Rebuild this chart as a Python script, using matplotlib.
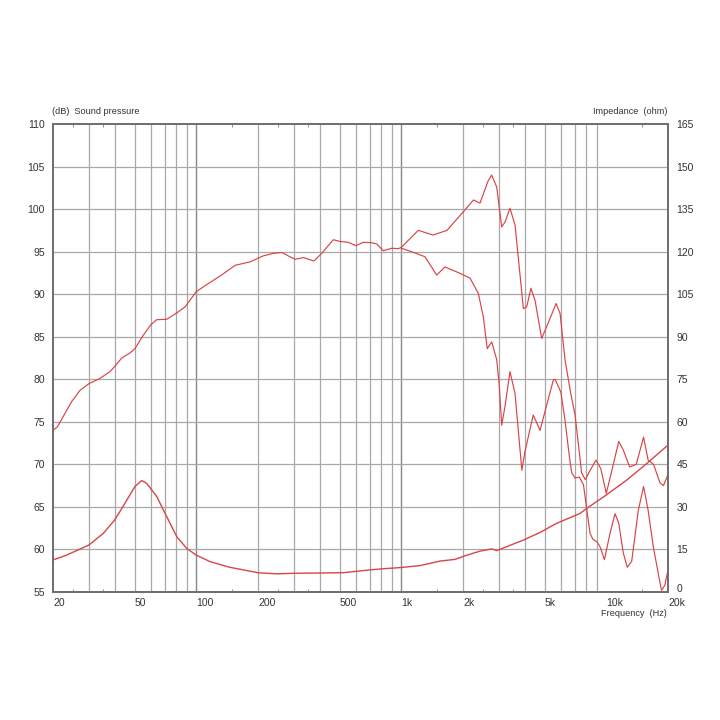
import numpy as np
import matplotlib
matplotlib.use('Agg')
import matplotlib.pyplot as plt
from matplotlib.transforms import ScaledTranslation

plt.rcParams['font.family'] = ['Liberation Sans', 'DejaVu Sans']

# on-axis sound pressure (dB)
f_on = [20, 21, 22.4, 24.7, 27.1, 30, 33.9, 37.9, 40, 43.3, 47.5, 50.2, 55.2, 60, 64.1,
        71.7, 80.3, 88.1, 100, 112, 130, 155, 183, 212, 238, 261, 303, 333, 375, 409,
        466, 502, 551, 600, 653, 717, 759, 817, 900, 967, 1000, 1210, 1430, 1670, 2010,
        2250, 2420, 2650, 2760, 2920, 3090, 3210, 3390, 3590, 3940, 4090, 4290, 4490,
        4840, 5120, 5690, 5950, 6290, 6700, 7040, 7300, 7580, 7900, 8300, 8900, 9400,
        10000, 10700, 11500, 12100, 13000, 14000, 15200, 16000, 17000, 18300, 19000, 20000]
spl_on = [74.0, 74.4, 75.6, 77.4, 78.7, 79.5, 80.1, 80.9, 81.5, 82.5, 83.1, 83.6, 85.2, 86.4, 87.0,
          87.05, 87.8, 88.5, 90.3, 91.1, 92.1, 93.4, 93.8, 94.5, 94.8, 94.9, 94.1, 94.3, 93.9, 94.8,
          96.4, 96.2, 96.1, 95.7, 96.1, 96.05, 95.9, 95.1, 95.4, 95.35, 95.5, 97.5, 96.95, 97.5, 99.7,
          101.07, 100.7, 103.3, 104.0, 102.6, 97.9, 98.5, 100.1, 98.1, 88.3, 88.5, 90.7, 89.3,
          84.8, 86.2, 88.9, 87.75, 82.3, 78.4, 75.8, 72.5, 69.0, 68.2, 69.2, 70.5, 69.5,
          66.6, 69.5, 72.7, 71.7, 69.7, 70.0, 73.2, 70.5, 70.0, 67.8, 67.5, 68.8]

# off-axis sound pressure (dB), splits from on-axis at 1 kHz
f_off = [1000, 1150, 1305, 1488, 1634, 1934, 2163, 2375, 2512, 2627, 2761, 2921, 3000, 3090,
         3205, 3390, 3587, 3874, 4010, 4403, 4751, 5124, 5514, 5625, 6000, 6290, 6600, 6780,
         7040, 7390, 7740, 8000, 8330, 8600, 9000, 9330, 9790, 10430, 11030, 11500, 12100,
         12660, 13300, 14330, 15200, 16000, 16960, 18280, 18600, 19300, 20000]
spl_off = [95.4, 94.9, 94.4, 92.25, 93.2, 92.45, 91.9, 90.1, 87.35, 83.6, 84.4, 82.3, 79.5, 74.6,
           76.8, 80.9, 78.35, 69.3, 71.5, 75.8, 74.0, 77.0, 79.9, 80.0, 78.5, 75.2, 71.0, 69.0,
           68.4, 68.5, 67.6, 65.0, 61.9, 61.2, 60.9, 60.3, 58.8, 61.9, 64.2, 63.1, 59.6,
           57.9, 58.6, 64.6, 67.4, 64.6, 60.3, 56.1, 55.2, 55.8, 57.6]

# impedance (ohm)
f_imp = [20, 23.3, 30, 35.2, 40, 44.9, 50.2, 54.2, 57.3, 64.1, 71.7, 80.3, 90, 100, 116.7, 146,
         200, 247, 300, 521, 704, 817, 985, 1234, 1545, 1828, 2090, 2421, 2761, 2921, 3270,
         3937, 4751, 5720, 7450, 8000, 10000, 12600, 15700, 20000]
z_imp = [11.3, 13.0, 16.6, 20.7, 25.4, 31.3, 37.2, 39.3, 38.3, 33.7, 26.6, 19.5, 15.3, 13.0, 10.7, 8.7,
         6.8, 6.4, 6.6, 6.8, 7.8, 8.2, 8.6, 9.3, 10.9, 11.5, 13.0, 14.4, 15.2, 14.6, 16.0,
         18.3, 21.0, 24.2, 27.7, 29.4, 34.2, 39.5, 45.2, 51.8]

x_ticks = [20, 50, 100, 200, 500, 1000, 2000, 5000, 10000, 20000]
x_labels = ['20', '50', '100', '200', '500', '1k', '2k', '5k', '10k', '20k']
small_ticks = [25, 35, 150, 250, 350, 1500, 2500, 3500, 15000]
db_ticks = list(range(55, 111, 5))
ohm_ticks = list(range(0, 166, 15))

red = '#d94446'
grid_c = '#a8a8a8'
txt_c = '#333333'

fig = plt.figure(figsize=(7.2, 7.2), dpi=100)
ax = fig.add_axes([53 / 720, 1 - 592 / 720, 615 / 720, 468 / 720])
ax.set_xscale('log')
ax.set_xlim(20, 20000)
ax.set_ylim(55, 110)

# vertical grid 30 .. 10k, decades a bit darker
for d in [10, 100, 1000]:
    for m in range(1, 10):
        f = m * d
        if 20 < f <= 10000:
            ax.axvline(f, color='#888888' if m == 1 else grid_c, lw=1.0 if m == 1 else 0.9, zorder=1)
for v in db_ticks[1:-1]:
    ax.axhline(v, color=grid_c, lw=0.9, zorder=1)

ax.plot(f_on, spl_on, color=red, lw=0.85, zorder=3)
ax.plot(f_off, spl_off, color=red, lw=0.85, zorder=3)

ax2 = ax.twinx()
ax2.set_ylim(0, 165)
ax2.plot(f_imp, z_imp, color=red, lw=1.0, zorder=3)

ax.set_yticks(db_ticks)
ax.set_yticklabels([str(v) for v in db_ticks])
ax2.set_yticks(ohm_ticks)
ax2.set_yticklabels([str(v) for v in ohm_ticks])
ax.set_xticks(x_ticks)
ax.set_xticklabels(x_labels, ha='left')
ax.set_xticks(small_ticks, minor=True)
ax.xaxis.set_minor_formatter(matplotlib.ticker.NullFormatter())

ax.tick_params(axis='x', which='major', length=0, pad=4, labelsize=7.5, colors=txt_c)
ax.tick_params(axis='x', which='minor', length=2.5, direction='in', top=True, color='#808080')
ax.tick_params(axis='y', length=0, pad=6, labelsize=7.5, colors=txt_c)
ax2.tick_params(axis='y', length=0, pad=6, labelsize=7.5, colors=txt_c)

# lift the "0" ohm label a little so it clears "20k"
zero_lbl = ax2.get_yticklabels()[0]
zero_lbl.set_transform(zero_lbl.get_transform() + ScaledTranslation(0, 3 / 72, fig.dpi_scale_trans))

for a in (ax, ax2):
    for s in a.spines.values():
        s.set_color('#707070')
        s.set_linewidth(1.4)

fig.text(52 / 720, 1 - 111 / 720, '(dB)  Sound pressure', fontsize=6.6, color=txt_c, va='center', ha='left')
fig.text(667 / 720, 1 - 111 / 720, 'Impedance  (ohm)', fontsize=6.6, color=txt_c, va='center', ha='right')
fig.text(667 / 720, 1 - 613 / 720, 'Frequency  (Hz)', fontsize=6.6, color=txt_c, va='center', ha='right')

fig.savefig('out.png', dpi=100, facecolor='white')
